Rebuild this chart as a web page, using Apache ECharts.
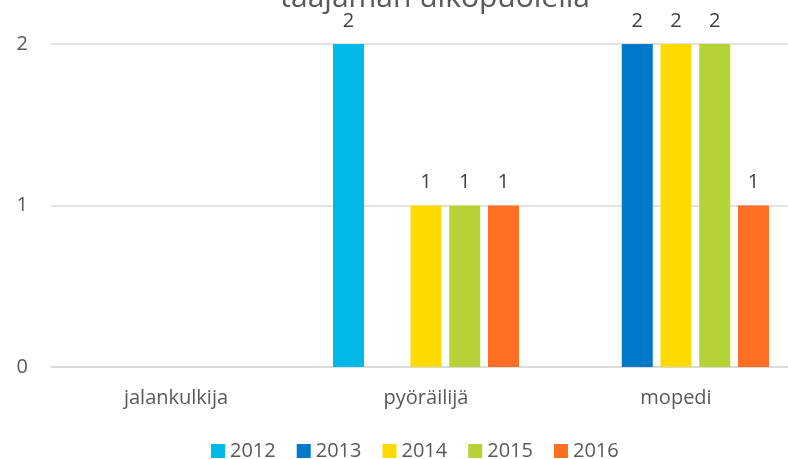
<!DOCTYPE html>
<html>
<head>
<meta charset="utf-8">
<script src="https://cdn.jsdelivr.net/npm/echarts@6/dist/echarts.min.js"></script>
<style>
  html, body { margin: 0; padding: 0; background: #fff; }
  #chart { width: 788px; height: 459px; }
</style>
</head>
<body>
<div id="chart"></div>
<script>
// kategoriat ja vuosisarjat
var categories = ['jalankulkija', 'pyöräilijä', 'mopedi']
var years = ['2012', '2013', '2014', '2015', '2016']
var v2012 = [null, 2, null]
var v2013 = [null, null, 2]
var v2014 = [null, 1, 2]
var v2015 = [null, 1, 2]
var v2016 = [null, 1, 1]
var yTicks = [0, 1, 2]

var colors = ['#00B9E8', '#0079C8', '#FFDA00', '#B5D337', '#FF6E22']
var font = '"Open Sans", "Noto Sans", sans-serif'
var values = [v2012, v2013, v2014, v2015, v2016]

var chart = echarts.init(document.getElementById('chart'))

var series = years.map(function (y, i) {
	return {
		name: y,
		type: 'bar',
		data: values[i],
		barWidth: 31,
		barGap: '25%',
		itemStyle: { color: colors[i] },
		label: {
			show: true,
			position: 'top',
			distance: 13,
			color: '#404040',
			fontSize: 20,
			fontFamily: font,
		},
	}
})

chart.setOption({
	animation: false,
	color: colors,
	graphic: [
		{
			// otsikon näkyvä alaosa (yläreuna rajautuu kuvan ulkopuolelle)
			type: 'text',
			right: 198,
			top: -17,
			style: {
				text: 'taajaman ulkopuolella',
				font: '30px ' + font,
				fill: '#595959',
			},
		},
	],
	legend: {
		data: years,
		left: 206,
		top: 436,
		itemWidth: 14,
		itemHeight: 14,
		itemGap: 21,
		icon: 'rect',
		textStyle: { color: '#595959', fontSize: 20, fontFamily: font },
	},
	grid: {
		left: 51,
		top: 44,
		width: 750,
		height: 323,
		containLabel: false,
		outerBoundsMode: 'none',
	},
	xAxis: {
		type: 'category',
		data: categories,
		axisLine: { lineStyle: { color: '#D9D9D9', width: 1.5 } },
		axisTick: { show: false },
		axisLabel: { color: '#595959', fontSize: 20, fontFamily: font, margin: 21 },
	},
	yAxis: {
		type: 'value',
		min: yTicks[0],
		max: yTicks[yTicks.length - 1],
		interval: 1,
		axisLine: { show: false },
		axisTick: { show: false },
		axisLabel: { color: '#595959', fontSize: 20, fontFamily: font, margin: 23 },
		splitLine: { lineStyle: { color: '#D9D9D9', width: 1.5 } },
	},
	series: series,
})
</script>
</body>
</html>
